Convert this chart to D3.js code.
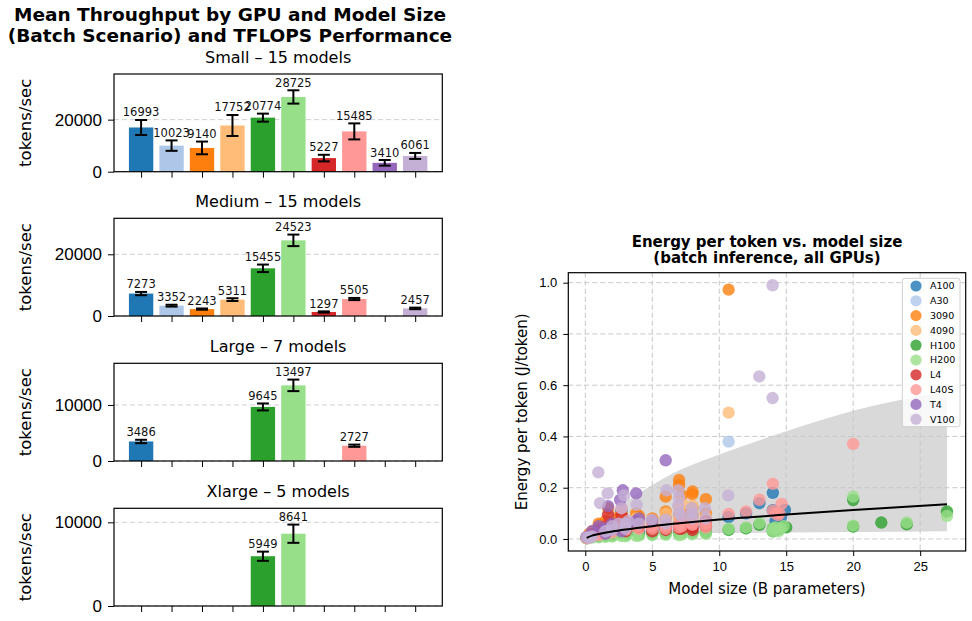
<!DOCTYPE html>
<html>
<head>
<meta charset="utf-8">
<script src="https://cdn.jsdelivr.net/npm/d3@7"></script>
<style>
  body { margin: 0; background: #fff; }
  svg { font-family: "DejaVu Sans", sans-serif; }
</style>
</head>
<body>
<svg id="chart" width="972" height="621"></svg>
<script>
const gpus = ['A100', 'A30', '3090', '4090', 'H100', 'H200', 'L4', 'L40S', 'T4', 'V100']
const gpuColors = ['#1f77b4', '#aec7e8', '#ff7f0e', '#ffbb78', '#2ca02c', '#98df8a', '#d62728', '#ff9896', '#9467bd', '#c5b0d5']

// left: mean throughput (tokens/sec) and spread, per size class
const sizeTitles = ['Small – 15 models', 'Medium – 15 models', 'Large – 7 models', 'Xlarge – 5 models']
const smallMean = [16993, 10023, 9140, 17752, 20774, 28725, 5227, 15485, 3410, 6061]
const smallErr = [2880, 2000, 2440, 4040, 1540, 2560, 1270, 3080, 1080, 1150]
const mediumMean = [7273, 3352, 2243, 5311, 15455, 24523, 1297, 5505, null, 2457]
const mediumErr = [530, 300, 200, 450, 1220, 1870, 200, 350, null, 250]
const largeMean = [3486, null, null, null, 9645, 13497, null, 2727, null, null]
const largeErr = [300, null, null, null, 620, 1030, null, 200, null, null]
const xlargeMean = [null, null, null, null, 5949, 8641, null, null, null, null]
const xlargeErr = [null, null, null, null, 550, 1090, null, null, null, null]
const barTicks = [[0, 20000], [0, 20000], [0, 10000], [0, 10000]]

// right: energy per token (J/token) vs model size (B params)
const a100Pts = [[0.1,0.004],[0.5,0.008],[1,0.012],[1.5,0.018],[1.7,0.02],[2,0.022],[2.5,0.025],[2.7,0.108],[3,0.03],[3.2,0.03],[3.8,0.035],[4,0.03],[5,0.035],[6,0.04],[7,0.045],[7,0.06],[7.2,0.05],[8,0.048],[8,0.065],[9,0.05],[10.7,0.085],[12,0.1],[13,0.14],[14,0.18],[14,0.112],[14.2,0.07],[14.6,0.085],[14.9,0.113]]
const a30Pts = [[0.5,0.015],[1,0.03],[1.5,0.04],[2,0.045],[3,0.06],[4,0.07],[6,0.08],[7,0.1],[8,0.09],[10.7,0.38]]
const rtx3090Pts = [[0.3,0.02],[0.5,0.03],[1,0.06],[1.1,0.055],[1.5,0.07],[1.7,0.12],[2,0.06],[2,0.04],[2.5,0.085],[2.7,0.1],[2.7,0.06],[3,0.07],[3,0.05],[3.2,0.045],[3.8,0.1],[4,0.09],[4,0.06],[5,0.06],[5,0.08],[6,0.165],[6,0.107],[6,0.08],[7,0.23],[7,0.21],[7,0.09],[7.2,0.17],[7.2,0.1],[8,0.185],[8,0.175],[8,0.12],[8,0.09],[9,0.155],[9,0.1],[9,0.075],[10.7,0.973]]
const rtx4090Pts = [[0.5,0.02],[1,0.04],[1.5,0.05],[2,0.045],[2.7,0.07],[3,0.06],[3.8,0.08],[4,0.07],[5,0.05],[6,0.1],[6,0.07],[7,0.12],[7,0.08],[7.2,0.14],[8,0.13],[8,0.07],[9,0.085],[10.7,0.493]]
const h100Pts = [[0.1,0.003],[0.5,0.008],[1,0.01],[1.5,0.012],[2,0.014],[2.7,0.02],[3,0.016],[4,0.018],[5,0.02],[6,0.022],[7,0.022],[7.2,0.024],[8,0.025],[9,0.026],[10.7,0.035],[12,0.041],[13,0.055],[14,0.04],[14,0.03],[14.2,0.035],[14.3,0.036],[14.5,0.04],[14.7,0.045],[15,0.045],[20,0.152],[20,0.048],[22.1,0.064],[24,0.057],[27,0.107]]
const h200Pts = [[0.1,0.002],[0.5,0.005],[1,0.006],[1.5,0.008],[2,0.009],[2.7,0.011],[3,0.01],[3.8,0.012],[4,0.013],[5,0.015],[6,0.016],[7,0.015],[7.2,0.017],[8,0.018],[9,0.02],[10.7,0.04],[12,0.045],[13,0.062],[14,0.03],[14,0.04],[14.2,0.045],[14.4,0.03],[14.6,0.04],[14.8,0.05],[20,0.165],[20,0.052],[24,0.064],[27,0.09]]
const l4Pts = [[0.1,0.005],[0.5,0.02],[1,0.04],[1,0.025],[1.2,0.03],[1.5,0.05],[1.7,0.094],[2,0.06],[2,0.035],[2.5,0.05],[2.7,0.09],[3,0.04],[3,0.03],[3.8,0.05],[4,0.045],[5,0.03],[5,0.045],[6,0.035],[6,0.05],[7,0.05],[7,0.04],[7.2,0.04],[7.2,0.06],[8,0.045],[8,0.035],[9,0.068],[9,0.05]]
const l40sPts = [[0.1,0.003],[0.5,0.01],[1,0.015],[1.2,0.02],[1.5,0.03],[2,0.04],[2,0.025],[2.7,0.12],[3,0.035],[3,0.05],[3.2,0.06],[3.8,0.05],[4,0.04],[5,0.04],[5,0.05],[6,0.05],[6,0.04],[7,0.06],[7,0.045],[7.2,0.065],[7.2,0.05],[8,0.06],[8,0.055],[9,0.06],[9,0.045],[10.7,0.098],[12,0.107],[13,0.153],[14,0.215],[14,0.11],[14.2,0.1],[14.4,0.093],[14.5,0.1],[14.66,0.137],[20,0.371]]
const t4Pts = [[0.1,0.008],[0.5,0.03],[1,0.05],[1.5,0.04],[1.5,0.02],[1.7,0.128],[2,0.06],[2,0.04],[2.6,0.152],[2.7,0.03],[2.8,0.19],[3,0.05],[3.2,0.06],[3.8,0.178],[3.8,0.07],[4,0.08],[5,0.07],[6,0.307]]
const v100Pts = [[0.1,0.006],[0.3,0.004],[0.5,0.01],[0.97,0.26],[1.1,0.14],[1.5,0.03],[1.67,0.178],[2,0.05],[2,0.035],[2.5,0.06],[2.7,0.12],[2.9,0.17],[3,0.06],[3,0.04],[3.2,0.07],[3.84,0.133],[4,0.06],[4.95,0.074],[6,0.075],[6,0.06],[6.07,0.19],[6.94,0.19],[6.94,0.13],[7,0.16],[7,0.1],[7.2,0.09],[7.94,0.12],[8,0.1],[8,0.08],[8.93,0.12],[9,0.08],[10.67,0.17],[12.99,0.634],[13.98,0.99],[13.98,0.55]]

// trend fit and its band
const fitX = [0.1, 0.5, 1, 2, 3, 5, 7, 10, 15, 20, 27]
const fitY = [0.004, 0.013, 0.019, 0.029, 0.037, 0.05, 0.061, 0.076, 0.095, 0.113, 0.135]
const bandX = [0.1, 1, 2, 3.75, 6.3, 8.5, 10, 15, 20, 27]
const bandLow = [0.0, 0.005, 0.01, 0.015, 0.02, 0.022, 0.023, 0.025, 0.027, 0.03]
const bandHigh = [0.01, 0.06, 0.11, 0.17, 0.25, 0.30, 0.33, 0.42, 0.50, 0.575]
const xTicks = [0, 5, 10, 15, 20, 25]
const yTicks = [0, 0.2, 0.4, 0.6, 0.8, 1.0]

const svg = d3.select('#chart')

// ---------- left: bar panels ----------
svg.append('text')
  .attr('x', 230).attr('y', 20.5)
  .attr('text-anchor', 'middle')
  .style('font-size', '18.5px').style('font-weight', 'bold')
  .text('Mean Throughput by GPU and Model Size')
svg.append('text')
  .attr('x', 230).attr('y', 41.5)
  .attr('text-anchor', 'middle')
  .style('font-size', '18.5px').style('font-weight', 'bold')
  .text('(Batch Scenario) and TFLOPS Performance')

const means = [smallMean, mediumMean, largeMean, xlargeMean]
const errs = [smallErr, mediumErr, largeErr, xlargeErr]
const panelTops = [74, 218.3, 363.3, 508.3]
const panelH = 97.7
const left = 114, right = 442.3

const xBar = d3.scaleLinear().domain([-0.89, 9.89]).range([left, right])

means.forEach((m, p) => {
  const e = errs[p]
  const top = panelTops[p], bottom = top + panelH
  const rows = gpus.map((g, i) => ({ g: g, i: i, v: m[i], e: e[i] })).filter(d => d.v != null)
  const ymax = d3.max(rows, d => d.v + d.e) * 1.2
  const y = d3.scaleLinear().domain([0, ymax]).range([bottom, top])
  const g = svg.append('g')

  // grid
  g.selectAll('.grid')
    .data(barTicks[p])
    .enter().append('line')
    .attr('x1', left).attr('x2', right)
    .attr('y1', d => y(d)).attr('y2', d => y(d))
    .attr('stroke', '#d0d0d0').attr('stroke-width', 1)
    .attr('stroke-dasharray', '5,3')

  g.selectAll('rect')
    .data(rows)
    .enter().append('rect')
    .attr('x', d => xBar(d.i - 0.4))
    .attr('width', xBar(0.8) - xBar(0))
    .attr('y', d => y(d.v))
    .attr('height', d => bottom - y(d.v))
    .attr('fill', d => gpuColors[d.i])

  // error bars
  const eb = g.selectAll('.eb').data(rows).enter().append('g')
  eb.append('line')
    .attr('x1', d => xBar(d.i)).attr('x2', d => xBar(d.i))
    .attr('y1', d => y(d.v - d.e)).attr('y2', d => y(d.v + d.e))
    .attr('stroke', '#000').attr('stroke-width', 2)
  ;[-1, 1].forEach(s => {
    eb.append('line')
      .attr('x1', d => xBar(d.i) - 6).attr('x2', d => xBar(d.i) + 6)
      .attr('y1', d => y(d.v + s * d.e)).attr('y2', d => y(d.v + s * d.e))
      .attr('stroke', '#000').attr('stroke-width', 2)
  })

  g.selectAll('.lbl')
    .data(rows)
    .enter().append('text')
    .attr('x', d => xBar(d.i))
    .attr('y', d => y(d.v + d.e) - 3.5)
    .attr('text-anchor', 'middle')
    .style('font-size', '11.5px').attr('fill', '#111')
    .text(d => d.v)

  // axes
  const yAxis = d3.axisLeft(y).tickValues(barTicks[p]).tickSize(6).tickPadding(6).tickFormat(d3.format('d'))
  const ya = g.append('g').attr('transform', `translate(${left},0)`).call(yAxis)
  ya.select('.domain').remove()
  ya.selectAll('text').style('font-size', '17px').attr('fill', '#000')

  const xAxis = d3.axisBottom(xBar).tickValues(d3.range(10)).tickSize(6).tickFormat('')
  const xa = g.append('g').attr('transform', `translate(0,${bottom})`).call(xAxis)
  xa.select('.domain').remove()

  g.append('rect')
    .attr('x', left).attr('y', top)
    .attr('width', right - left).attr('height', panelH)
    .attr('fill', 'none').attr('stroke', '#000').attr('stroke-width', 1.2)

  g.append('text')
    .attr('x', (left + right) / 2).attr('y', top - 11.5)
    .attr('text-anchor', 'middle')
    .style('font-size', '16px')
    .text(sizeTitles[p])

  g.append('text')
    .attr('transform', `translate(31,${(top + bottom) / 2}) rotate(-90)`)
    .attr('text-anchor', 'middle')
    .style('font-size', '16.5px')
    .text('tokens/sec')
})

// ---------- right: scatter ----------
const sx0 = 568.3, sx1 = 965.7, sy0 = 272.7, sy1 = 551
const x = d3.scaleLinear().domain([-1.27, 28.4]).range([sx0, sx1])
const y = d3.scaleLinear().domain([-0.047, 1.039]).range([sy1, sy0])
const sg = svg.append('g')

const band = bandX.map((d, i) => ({ x: d, lo: bandLow[i], hi: bandHigh[i] }))
sg.append('path')
  .datum(band)
  .attr('d', d3.area().x(d => x(d.x)).y0(d => y(d.lo)).y1(d => y(d.hi)).curve(d3.curveMonotoneX))
  .attr('fill', '#d9d9d9')

sg.selectAll('.gx')
  .data(xTicks).enter().append('line')
  .attr('x1', d => x(d)).attr('x2', d => x(d))
  .attr('y1', sy0).attr('y2', sy1)
  .attr('stroke', '#c8c8c8').attr('stroke-dasharray', '5,3')
sg.selectAll('.gy')
  .data(yTicks).enter().append('line')
  .attr('x1', sx0).attr('x2', sx1)
  .attr('y1', d => y(d)).attr('y2', d => y(d))
  .attr('stroke', '#c8c8c8').attr('stroke-dasharray', '5,3')

const gpuPts = [a100Pts, a30Pts, rtx3090Pts, rtx4090Pts, h100Pts, h200Pts, l4Pts, l40sPts, t4Pts, v100Pts]
gpuPts.forEach((pts, k) => {
  sg.append('g').selectAll('circle')
    .data(pts)
    .enter().append('circle')
    .attr('cx', d => x(d[0]))
    .attr('cy', d => y(d[1]))
    .attr('r', 6.2)
    .attr('fill', gpuColors[k])
    .attr('fill-opacity', 0.8)
})

const fit = fitX.map((d, i) => [d, fitY[i]])
sg.append('path')
  .datum(fit)
  .attr('d', d3.line().x(d => x(d[0])).y(d => y(d[1])).curve(d3.curveMonotoneX))
  .attr('fill', 'none').attr('stroke', '#000').attr('stroke-width', 2)

const xa2 = sg.append('g').attr('transform', `translate(0,${sy1})`)
  .call(d3.axisBottom(x).tickValues(xTicks).tickSize(5).tickPadding(6))
xa2.select('.domain').remove()
xa2.selectAll('text').style('font-size', '13px').attr('fill', '#000')
const ya2 = sg.append('g').attr('transform', `translate(${sx0},0)`)
  .call(d3.axisLeft(y).tickValues(yTicks).tickSize(5).tickPadding(6).tickFormat(d3.format('.1f')))
ya2.select('.domain').remove()
ya2.selectAll('text').style('font-size', '13px').attr('fill', '#000')

sg.append('rect')
  .attr('x', sx0).attr('y', sy0)
  .attr('width', sx1 - sx0).attr('height', sy1 - sy0)
  .attr('fill', 'none').attr('stroke', '#000').attr('stroke-width', 1.2)

sg.append('text')
  .attr('x', (sx0 + sx1) / 2).attr('y', 594.3)
  .attr('text-anchor', 'middle').style('font-size', '15px')
  .text('Model size (B parameters)')
sg.append('text')
  .attr('transform', `translate(527,${(sy0 + sy1) / 2}) rotate(-90)`)
  .attr('text-anchor', 'middle').style('font-size', '15px')
  .text('Energy per token (J/token)')

sg.append('text')
  .attr('x', (sx0 + sx1) / 2).attr('y', 246.7)
  .attr('text-anchor', 'middle').style('font-size', '15px').style('font-weight', 'bold')
  .text('Energy per token vs. model size')
sg.append('text')
  .attr('x', (sx0 + sx1) / 2).attr('y', 263)
  .attr('text-anchor', 'middle').style('font-size', '15px').style('font-weight', 'bold')
  .text('(batch inference, all GPUs)')

// legend
const lg = sg.append('g')
lg.append('rect')
  .attr('x', 902.3).attr('y', 278.3).attr('width', 57.7).attr('height', 148.4)
  .attr('rx', 2.5).attr('fill', '#fff').attr('fill-opacity', 0.8)
  .attr('stroke', '#d0d0d0')
const items = lg.selectAll('.item')
  .data(gpus).enter().append('g')
  .attr('transform', (d, i) => `translate(0,${286 + i * 14.8})`)
items.append('circle')
  .attr('cx', 916).attr('r', 5.6)
  .attr('fill', (d, i) => gpuColors[i]).attr('fill-opacity', 0.8)
items.append('text')
  .attr('x', 930).attr('dy', '0.35em')
  .style('font-size', '9.5px')
  .text(d => d)
</script>
</body>
</html>
